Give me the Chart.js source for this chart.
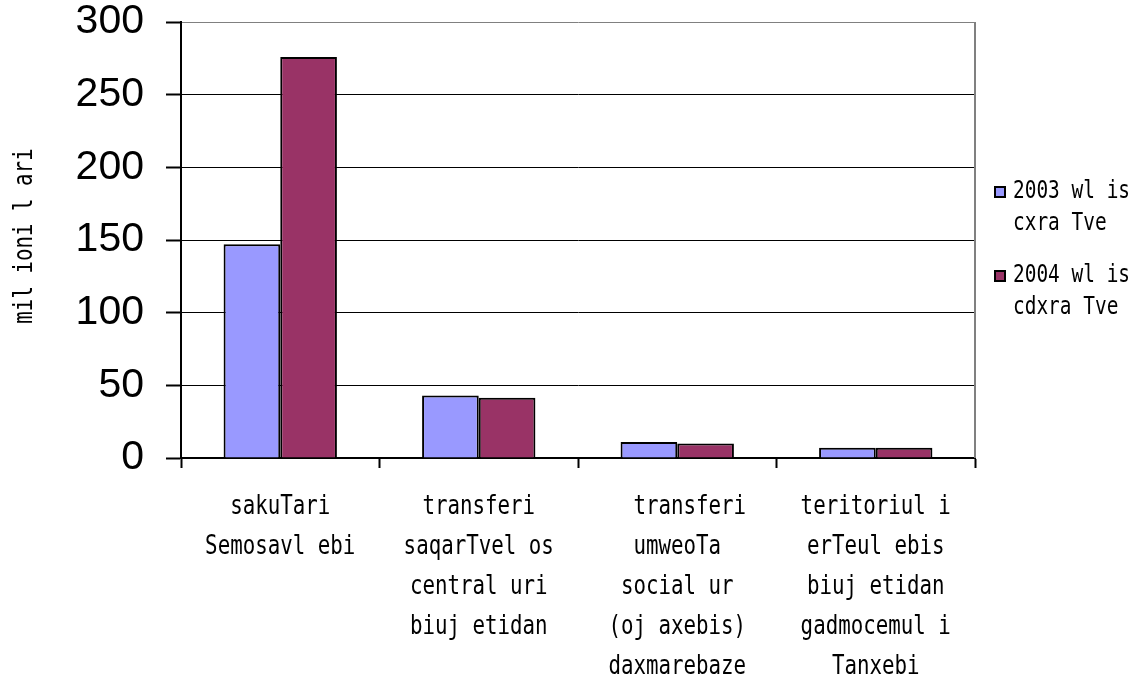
<!DOCTYPE html>
<html>
<head>
<meta charset="utf-8">
<script src="https://cdn.jsdelivr.net/npm/chart.js@4/dist/chart.umd.min.js"></script>
<style>
  html, body { margin: 0; padding: 0; background: #fff; }
  #wrap { width: 1140px; height: 681px; position: relative; }
</style>
</head>
<body>
<div id="wrap"><canvas id="c" width="1140" height="681"></canvas></div>
<script>
// ---- data ----
const categories = [
  ['sakuTari', 'Semosavl ebi'],
  ['transferi', 'saqarTvel os', 'central uri', 'biuj etidan'],
  ['  transferi', 'umweoTa', 'social ur', '(oj axebis)', 'daxmarebaze'],
  ['teritoriul i', 'erTeul ebis', 'biuj etidan', 'gadmocemul i', 'Tanxebi']
];
const series2003 = [147, 43, 11, 7];
const series2004 = [276, 41.5, 10, 7];
const legend2003 = ['2003 wl is', 'cxra Tve'];
const legend2004 = ['2004 wl is', 'cdxra Tve'];
const yTitle = 'mil ioni l ari';
const yMin = 0, yMax = 300, yStep = 50;

const MONO = '"DejaVu Sans Mono", monospace';
const SQUEEZE = 0.8;

// draw text horizontally condensed (the reference font is a narrow monospace)
function condensedText(ctx, text, x, y, sx) {
  ctx.save();
  ctx.translate(x, y);
  ctx.scale(sx, 1);
  ctx.fillText(text, 0, 0);
  ctx.restore();
}

const customPlugin = {
  id: 'custom',
  beforeDraw(chart) {
    const s = chart.scales.x;
    if (!s._condensedPatched) {
      const orig = s.drawLabels;
      s.drawLabels = function (area) {
        const ctx = this.ctx;
        const protoFill = CanvasRenderingContext2D.prototype.fillText;
        ctx.fillText = function (t, x, y) {
          this.save();
          this.translate(x, y);
          this.scale(SQUEEZE, 1);
          protoFill.call(this, t, 0, 0);
          this.restore();
        };
        try { orig.call(this, area); } finally { delete ctx.fillText; }
      };
      s._condensedPatched = true;
    }
  },
  afterDraw(chart) {
    const ctx = chart.ctx;
    const a = chart.chartArea;
    ctx.save();
    // right border
    ctx.strokeStyle = '#808080';
    ctx.lineWidth = 2;
    ctx.beginPath();
    ctx.moveTo(a.right, a.top);
    ctx.lineTo(a.right, a.bottom);
    ctx.stroke();
    // y title
    ctx.fillStyle = '#000';
    ctx.font = '26px ' + MONO;
    ctx.textAlign = 'center';
    ctx.textBaseline = 'middle';
    ctx.translate(25, 236);
    ctx.rotate(-Math.PI / 2);
    condensedText(ctx, yTitle, 0, 0, SQUEEZE);
    ctx.restore();
    // legend
    ctx.save();
    ctx.font = '24px ' + MONO;
    ctx.textAlign = 'left';
    ctx.textBaseline = 'middle';
    const startY = 192, itemGap = 84, lineGap = 32;
    chart.data.datasets.forEach((ds, i) => {
      const y0 = startY + i * itemGap;
      ctx.fillStyle = ds.backgroundColor;
      ctx.fillRect(995, y0 - 5, 10, 10);
      ctx.strokeStyle = '#000';
      ctx.lineWidth = 2;
      ctx.strokeRect(995, y0 - 5, 10, 10);
      ctx.fillStyle = '#000';
      ds.label.forEach((line, j) => {
        condensedText(ctx, line, 1013, y0 + j * lineGap, 0.81);
      });
    });
    ctx.restore();
  }
};

new Chart(document.getElementById('c'), {
  type: 'bar',
  data: {
    labels: categories,
    datasets: [
      { label: legend2003, data: series2003, backgroundColor: '#9999FF', borderColor: '#000', borderWidth: 2 },
      { label: legend2004, data: series2004, backgroundColor: '#993366', borderColor: '#000', borderWidth: 2 }
    ]
  },
  options: {
    responsive: false,
    animation: false,
    events: [],
    layout: { padding: { left: 0, top: 22, right: 165, bottom: 0 } },
    datasets: { bar: { categoryPercentage: 0.571, barPercentage: 1.0 } },
    plugins: { legend: { display: false }, tooltip: { enabled: false }, title: { display: false } },
    scales: {
      x: {
        grid: { display: true, drawOnChartArea: false, drawTicks: true, tickLength: 10, tickColor: '#000', tickWidth: 2, offset: true },
        border: { display: true, color: '#000', width: 2 },
        ticks: {
          color: '#000',
          font: { family: MONO, size: 26, lineHeight: 40 / 26 },
          padding: 19,
          maxRotation: 0,
          autoSkip: false
        },
        afterFit(scale) { scale.height = 681 - 458; scale.paddingLeft = 0; scale.paddingRight = 0; }
      },
      y: {
        min: yMin, max: yMax,
        grid: {
          color: (c) => (c.tick && c.tick.value === yMax) ? '#808080' : '#000',
          lineWidth: 1,
          tickColor: '#000',
          tickWidth: 2,
          tickLength: 15,
          drawTicks: true
        },
        border: { display: true, color: '#000', width: 2 },
        ticks: {
          stepSize: yStep,
          color: '#000',
          font: { family: '"Liberation Sans", Arial, sans-serif', size: 41 },
          padding: 22
        },
        afterFit(scale) { scale.width = 181; scale.paddingTop = 0; scale.paddingBottom = 0; }
      }
    }
  },
  plugins: [customPlugin]
});
</script>
</body>
</html>
